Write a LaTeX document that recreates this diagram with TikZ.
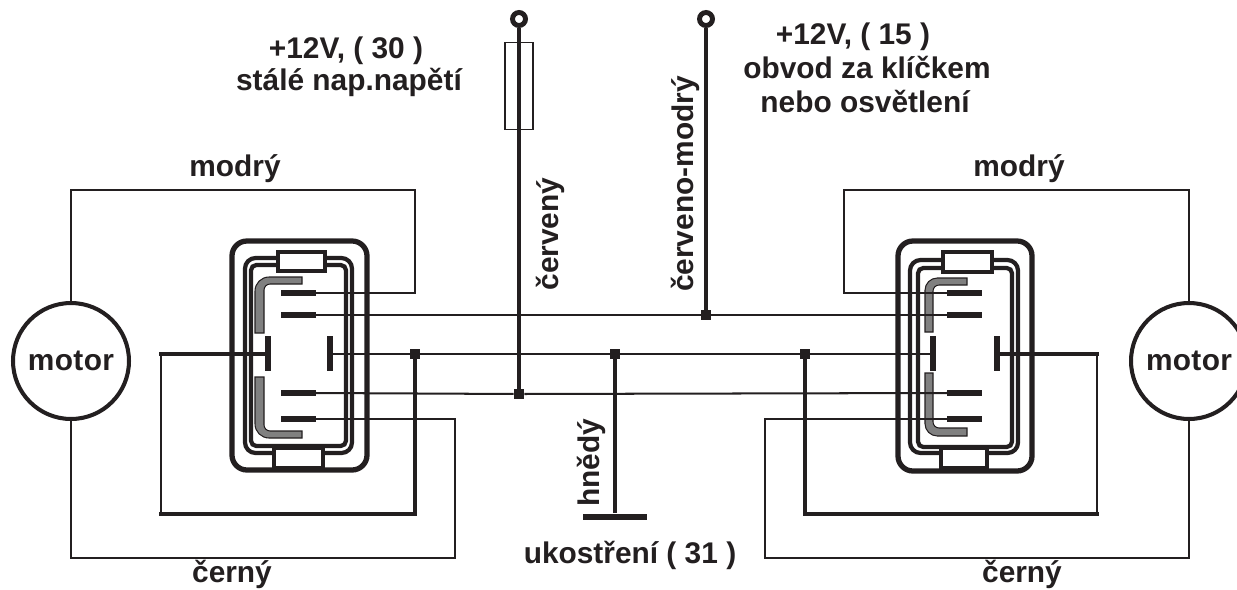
\documentclass[tikz,border=0pt]{standalone}
\usepackage{fontspec}
\setmainfont{Liberation Sans}
\usetikzlibrary{arrows}
\definecolor{cerna}{HTML}{231F20}
\definecolor{seda}{HTML}{808080}
\newcommand*{\ramKonektoru}[4]{% #1,#2 = x range, #3,#4 = y range
   \draw[line width=#1pt,rounded corners=#2pt] #3 rectangle #4;
}
\tikzset{
	drat/.style={line width=1.15pt},
	silny/.style={line width=1.8pt},
	tlusty/.style={line width=2.3pt},
	popis/.style={font=\bfseries\fontsize{17}{19}\selectfont,anchor=base,inner sep=0pt},
	uzel/.style={fill=cerna,inner sep=0pt,minimum size=0.2cm},
	svorka/.style={circle,draw=cerna,fill=white,line width=2.8pt,inner sep=0pt,minimum size=0.26cm},
	motor/.style={circle,draw=cerna,fill=white,line width=2.3pt,inner sep=0pt,minimum size=2.32cm,font=\bfseries\fontsize{17}{19}\selectfont},
	hacek/.style={fill=seda,draw=cerna,line width=0.6pt},
	kolik/.style={line width=3pt},
	kryt/.style={draw=cerna,fill=white,line width=2.3pt}
}
\begin{document}
\begin{tikzpicture}[
		x=0.02cm,
		y=-0.02cm,
		color=cerna,
		line join=miter
	]
		\useasboundingbox (0,0) rectangle (1237,589);

		% frames of both connectors
		\ramKonektoru{3}{8.5}{(232,241)}{(367,470)}
		\ramKonektoru{2.4}{6}{(245,258)}{(352,453)}
		\ramKonektoru{2.4}{3}{(251,265)}{(346,446)}
		\ramKonektoru{3}{8.5}{(898,241)}{(1032,471)}
		\ramKonektoru{2.4}{6}{(910,260)}{(1018,453)}
		\ramKonektoru{2.4}{3}{(918,268)}{(1012,447)}
		\draw[kryt] (278,252) rectangle (325,271);
		\draw[kryt] (274,448) rectangle (323,468);
		\draw[kryt] (943,252) rectangle (992,272);
		\draw[kryt] (941,448) rectangle (987,468);

		% grey hooks
		\draw[hacek] (302,277) [rounded corners=8pt] -- (255,277) [sharp corners] -- (255,333) -- (264,333) [rounded corners=3.5pt] -- (264,284) [sharp corners] -- (302,284) -- cycle;
		\draw[hacek] (302,438) [rounded corners=8pt] -- (255,438) [sharp corners] -- (255,377) -- (264,377) [rounded corners=3.5pt] -- (264,431) [sharp corners] -- (302,431) -- cycle;
		\draw[hacek] (967,278) [rounded corners=7pt] -- (925,278) [sharp corners] -- (925,332) -- (933,332) [rounded corners=3.5pt] -- (933,285) [sharp corners] -- (967,285) -- cycle;
		\draw[hacek] (967,436) [rounded corners=7pt] -- (925,436) [sharp corners] -- (925,373) -- (933,373) [rounded corners=3.5pt] -- (933,428) [sharp corners] -- (967,428) -- cycle;

		% contacts
		\foreach \n/\y in {a/293,b/315,c/393,d/419}{
			\coordinate (Lp\n) at (281,\y);
			\coordinate (Lk\n) at (316,\y);
			\coordinate (Pp\n) at (947,\y);
			\coordinate (Pk\n) at (982,\y);
			\draw[kolik] (Lp\n) -- (Lk\n);
			\draw[kolik] (Pp\n) -- (Pk\n);
		}
		\foreach \n/\x in {La/268,Lb/330,Pa/933,Pb/997}{
			\coordinate (\n) at (\x,354);
			\draw[line width=3.2pt] (\x,336) -- (\x,371);
		}

		% motors and end points
		\node[motor] (motorL) at (71,361) {m\kern0.2pt o\kern0.2pt t\kern0.2pt o\kern0.2pt r};
		\node[motor] (motorP) at (1189,361) {m\kern0.2pt o\kern0.2pt t\kern0.2pt o\kern0.2pt r};
		\node[svorka] (svorkaA) at (519,19) {};
		\node[svorka] (svorkaB) at (706,19) {};
		\node[draw,line width=1.1pt,minimum width=0.56cm,minimum height=1.74cm,inner sep=0pt] (pojistka) at (519,86) {};
		\node[uzel] (uzelA) at (415,354) {};
		\node[uzel] (uzelB) at (615,354) {};
		\node[uzel] (uzelC) at (805,354) {};
		\node[uzel] (uzelD) at (519,394) {};
		\node[uzel] (uzelE) at (706,315) {};
		\node[fill=cerna,inner sep=0pt,minimum width=1.28cm,minimum height=0.13cm] (kostra) at (615,517) {};

		\coordinate (rohA) at (415,190);
		\coordinate (rohB) at (455,558);
		\coordinate (rohC) at (161,514);
		\coordinate (rohD) at (844,190);
		\coordinate (rohE) at (765,558);
		\coordinate (rohF) at (1097,514);
		\coordinate (rohG) at (161,354);
		\coordinate (rohH) at (1097,354);

		% wires
		\draw[drat] (Lka) -| (rohA) -| (motorL.north);
		\draw[drat] (Lkd) -| (rohB) -| (motorL.south);
		\draw[drat] (Ppa) -| (rohD) -| (motorP.north);
		\draw[drat] (Ppd) -| (rohE) -| (motorP.south);
		\draw[drat] (Lkb) -- (uzelE) -- (Ppb);
		\draw[drat] (Lkc) -- (uzelD) -- (Ppc);
		\draw[drat] (Lb) -- (uzelA) -- (uzelB) -- (uzelC) -- (Pa);
		\draw[silny,line cap=rect] (La) -- (rohG);
		\draw[drat,line cap=rect] (rohG) -- (rohC);
		\draw[silny,line cap=rect] (rohC) -| (uzelA);
		\draw[silny,line cap=rect] (Pb) -- (rohH);
		\draw[drat,line cap=rect] (rohH) -- (rohF);
		\draw[silny,line cap=rect] (rohF) -| (uzelC);
		\draw[silny] (svorkaA) -- (uzelD);
		\draw[silny] (svorkaB) -- (uzelE);
		\draw[silny] (uzelB) -- (kostra);

		% labels
		\node[popis] (modryL) at (235,176) {modrý};
		\node[popis] (modryP) at (1019,176) {modrý};
		\node[popis] (cernyL) at (232,582) {černý};
		\node[popis] (cernyP) at (1022,582) {černý};
		\node[popis] (ukostreni) at (630,563) {ukostření ( 31 )};
		\node[popis] (napA) at (346,58) {+12V, ( 30 )};
		\node[popis] (napB) at (349,90) {stálé nap.napětí};
		\node[popis] (napC) at (853,44) {+12V, ( 15 )};
		\node[popis] (napD) at (867,78) {obvod za klíčkem};
		\node[popis] (napE) at (865,112) {nebo osvětlení};
		\node[popis,rotate=90] (cerveny) at (558,234) {červený};
		\node[popis,rotate=90] (cervenomodry) at (693,184) {červeno-modrý};
		\node[popis,rotate=90] (hnedy) at (599,463) {hnědý};
	\end{tikzpicture}
\end{document}
